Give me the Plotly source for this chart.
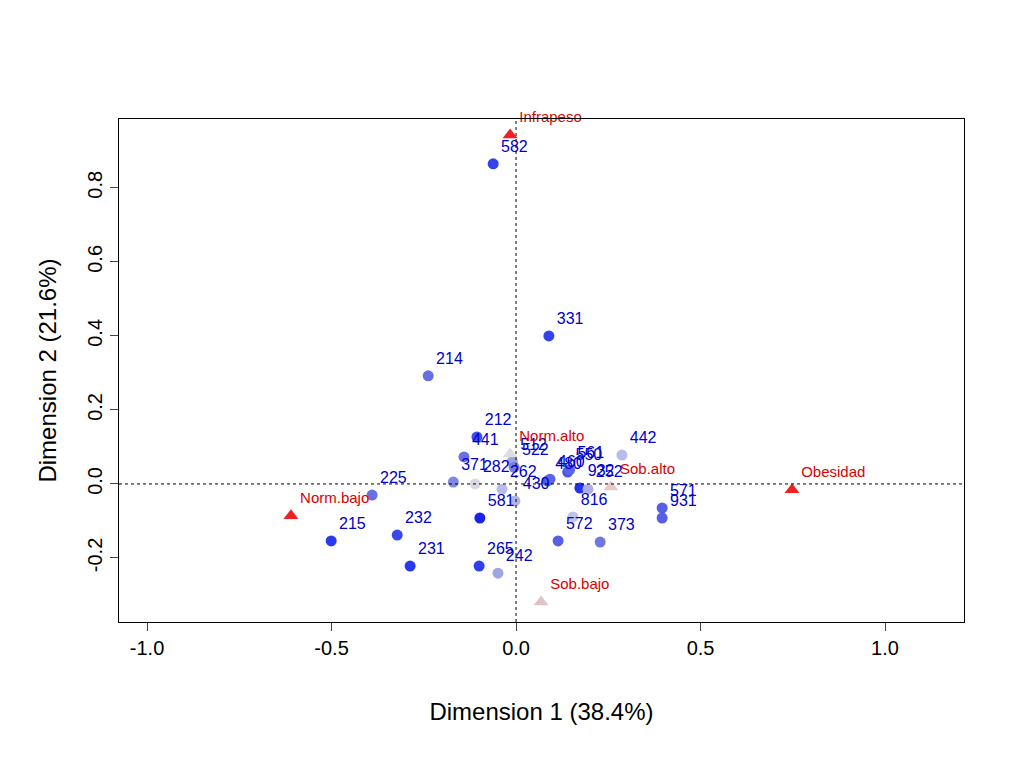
import plotly.graph_objects as go

row_labels = ["582","331","214","212","441","512","522","282","371","225","262","430","480","460","550","561","932","252","442","816","571","931","581","572","373","215","232","231","265","242"]
row_x = [-0.062,0.089,-0.238,-0.106,-0.141,-0.010,-0.005,-0.111,-0.170,-0.390,-0.038,-0.003,0.085,0.092,0.140,0.145,0.173,0.195,0.287,0.154,0.396,0.396,-0.098,0.114,0.228,-0.501,-0.322,-0.287,-0.100,-0.049]
row_y = [0.865,0.400,0.292,0.127,0.073,0.060,0.045,0.000,0.005,-0.030,-0.014,-0.046,0.008,0.013,0.032,0.038,-0.011,-0.014,0.078,-0.089,-0.065,-0.092,-0.092,-0.154,-0.157,-0.154,-0.138,-0.222,-0.222,-0.241]
row_col = ["#3344ee","#3344ee","#6670e0","#4050ea","#6670e0","#9aa0e0","#7880e0","#d8d8e0","#8088e0","#6670e0","#b8bce8","#b0b4e4","#4a56e6","#5a64e4","#4a56e6","#5a64e4","#2233f0","#aab0e6","#b8bce8","#c0c4e8","#5560e4","#5560e4","#1a22f0","#5560e4","#7078e0","#2a38ee","#3a48ea","#2a38ee","#3040ee","#a0a6e4"]

col_labels = ["Infrapeso","Norm.alto","Sob.alto","Obesidad","Norm.bajo","Sob.bajo"]
col_x = [-0.016,-0.016,0.257,0.748,-0.610,0.068]
col_y = [0.943,0.081,-0.008,-0.016,-0.086,-0.319]
col_col = ["#ee2222","#dddddd","#e8c8c8","#ee2222","#ee2222","#e0c4c4"]

fig = go.Figure()
fig.add_trace(go.Scatter(x=row_x, y=row_y, mode="markers+text", text=row_labels, cliponaxis=False,
    textposition="top right", textfont=dict(color="#0000cc", size=16, family="Liberation Sans"),
    marker=dict(color=row_col, size=11), hoverinfo="text"))
fig.add_trace(go.Scatter(x=col_x, y=col_y, mode="markers+text", text=col_labels, cliponaxis=False,
    textposition="top right", textfont=dict(color="#dd0000", size=15, family="Liberation Sans"),
    marker=dict(color=col_col, size=13, symbol="triangle-up"), hoverinfo="text"))
fig.add_shape(type="line", x0=0, x1=0, y0=0, y1=1, yref="paper", line=dict(color="black", width=1, dash="dot"))
fig.add_shape(type="line", y0=0, y1=0, x0=0, x1=1, xref="paper", line=dict(color="black", width=1, dash="dot"))
fig.update_layout(width=1024, height=768, plot_bgcolor="white", paper_bgcolor="white", showlegend=False,
    margin=dict(l=111, r=68, t=111, b=154),
    font=dict(family="Liberation Sans", size=20, color="black"))
fig.update_xaxes(range=[-1.076,1.214], tickvals=[-1.0,-0.5,0.0,0.5,1.0], ticktext=["-1.0","-0.5","0.0","0.5","1.0"],
    showgrid=False, zeroline=False, showline=True, mirror=True, linecolor="black", ticks="outside", ticklen=8,
    title=dict(text="Dimension 1 (38.4%)", standoff=45))
fig.update_yaxes(range=[-0.373,0.986], tickvals=[-0.2,0.0,0.2,0.4,0.6,0.8], ticktext=["-0.2","0.0","0.2","0.4","0.6","0.8"],
    tickangle=-90, showgrid=False, zeroline=False, showline=True, mirror=True, linecolor="black", ticks="outside", ticklen=8,
    title=dict(text="Dimension 2 (21.6%)", standoff=20))
fig.write_html("out.html")
